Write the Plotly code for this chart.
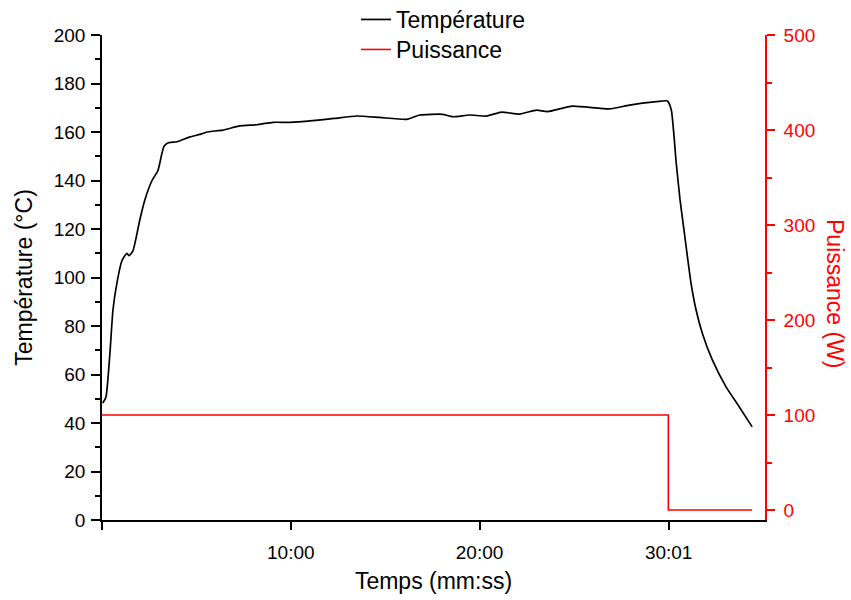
import plotly.graph_objects as go

# Temperature series (time in minutes, temperature in °C)
temp_time = [0.04, 0.21, 0.42, 0.58, 0.79, 1.06, 1.32, 1.43, 1.64, 1.85, 2.01, 2.27, 2.65,
             2.96, 3.17, 3.28, 3.49, 3.97, 4.66, 5.19, 5.56, 6.40, 7.30, 8.20, 9.05, 9.95,
             11.16, 12.30, 13.49, 14.71, 16.14, 16.83, 18.04, 18.57, 19.47, 20.37, 21.16,
             22.12, 23.02, 23.60, 24.92, 26.88, 27.94, 29.37, 29.95, 30.16, 30.42, 30.62,
             30.85, 31.20, 31.47, 31.80, 32.33, 33.05, 33.76, 34.44]
temp_vals = [48.2, 50.7, 68.8, 86.6, 97.7, 107.0, 110.0, 109.0, 111.0, 118.0, 124.0, 132.0, 140.0,
             144.0, 151.0, 154.0, 155.5, 156.0, 158.0, 159.0, 160.0, 160.8, 162.5, 163.0, 164.0, 164.0,
             164.7, 165.6, 166.6, 166.0, 165.2, 167.0, 167.3, 166.3, 167.0, 166.6, 168.2,
             167.4, 169.0, 168.4, 170.7, 169.5, 171.1, 172.5, 172.8, 169.0, 147.0, 132.0,
             118.3, 97.7, 86.6, 77.0, 66.0, 55.0, 46.6, 38.4]

# Power series (time in minutes, power in W)
power_time = [0.0, 30.0, 30.0, 34.44]
power_vals = [100, 100, 0, 0]

# X tick labels
x_tickvals = [0, 10, 20, 30.017]
x_ticktext = ["", "10:00", "20:00", "30:01"]

FONT = "Liberation Sans, Arial, sans-serif"
L, R, T, B = 102, 86, 0, 80
W, H = 851, 600
PW, PH = W - L - R, H - T - B


def px(xp):
    return (xp - L) / PW


def py(yp):
    return (H - B - yp) / PH


fig = go.Figure()
fig.add_trace(go.Scatter(x=temp_time, y=temp_vals, mode="lines", name="Température",
                         legend="legend",
                         line=dict(color="black", width=1.7, shape="spline", smoothing=0.5)))
fig.add_trace(go.Scatter(x=power_time, y=power_vals, mode="lines", name="Puissance",
                         legend="legend2",
                         line=dict(color="#ff0000", width=1.6), yaxis="y2"))

leg_common = dict(xanchor="left", yanchor="top", font=dict(size=23, family=FONT),
                  bgcolor="rgba(0,0,0,0)")

fig.update_layout(
    width=W, height=H,
    paper_bgcolor="white", plot_bgcolor="white",
    margin=dict(l=L, r=R, t=T, b=B, autoexpand=False),
    font=dict(family=FONT, size=19, color="black"),
    showlegend=True,
    legend=dict(x=px(356), y=py(-2), **leg_common),
    legend2=dict(x=px(356), y=py(28), **leg_common),
    xaxis=dict(range=[0, 35.12], tickvals=x_tickvals, ticktext=x_ticktext, automargin=False,
               showline=True, linecolor="black", linewidth=1.6, showgrid=False, zeroline=False,
               ticks="outside", ticklen=8, tickwidth=1.6, tickcolor="black", ticklabelstandoff=6,
               tickfont=dict(size=19, family=FONT),
               title=dict(text="Temps (mm:ss)", font=dict(size=23, family=FONT), standoff=11)),
    yaxis=dict(range=[0, 200], dtick=20, tick0=0, automargin=False, domain=[0, py(35)],
               showline=True, linecolor="black", linewidth=1.6, showgrid=False, zeroline=False,
               ticks="outside", ticklen=9, tickwidth=1.6, tickcolor="black", ticklabelstandoff=2,
               minor=dict(dtick=10, ticks="outside", ticklen=5, tickwidth=1.6, tickcolor="black"),
               tickfont=dict(size=19, family=FONT),
               title=dict(text="Température (°C)", font=dict(size=23, family=FONT), standoff=15)),
    yaxis2=dict(range=[-10.5, 500], dtick=100, tick0=0, overlaying="y", side="right",
                automargin=False,
                showline=True, linecolor="#ff0000", linewidth=1.6, showgrid=False, zeroline=False,
                ticks="outside", ticklen=8, tickwidth=1.6, tickcolor="#ff0000", ticklabelstandoff=5,
                minor=dict(dtick=50, ticks="outside", ticklen=5, tickwidth=1.6, tickcolor="#ff0000"),
                tickfont=dict(size=19, family=FONT, color="#ff0000")),
    annotations=[dict(text="Puissance (W)", x=px(835), y=py(294), xref="paper", yref="paper",
                      showarrow=False, textangle=90, xanchor="center", yanchor="middle",
                      font=dict(size=23, family=FONT, color="#ff0000"))]
)

fig.write_html("out.html", config={"displayModeBar": False},
               post_script="document.body.style.margin='0px';document.body.style.padding='0px';")
